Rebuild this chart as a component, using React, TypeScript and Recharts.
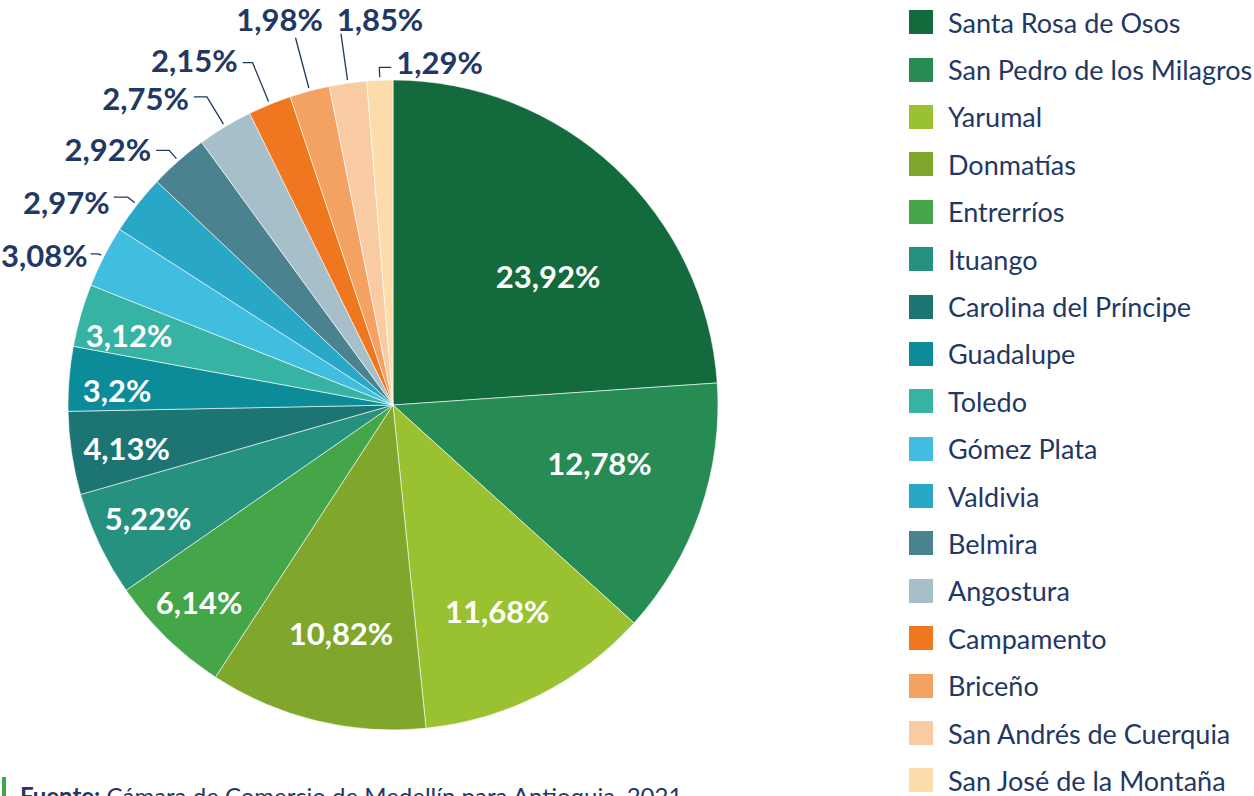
import { PieChart, Pie, Cell, Legend } from "recharts";

const municipios = [
  "Santa Rosa de Osos",
  "San Pedro de los Milagros",
  "Yarumal",
  "Donmatías",
  "Entrerríos",
  "Ituango",
  "Carolina del Príncipe",
  "Guadalupe",
  "Toledo",
  "Gómez Plata",
  "Valdivia",
  "Belmira",
  "Angostura",
  "Campamento",
  "Briceño",
  "San Andrés de Cuerquia",
  "San José de la Montaña",
];

const participacion = [
  23.92, 12.78, 11.68, 10.82, 6.14, 5.22, 4.13, 3.2, 3.12, 3.08, 2.97, 2.92, 2.75, 2.15, 1.98, 1.85, 1.29,
];

const colores = [
  "#136a3c", "#278b54", "#9ac12f", "#80a72c", "#44a649", "#25917e", "#1c7572", "#0c8c99", "#36b3a3",
  "#41bde0", "#28a7c6", "#4a8290", "#a6bfcb", "#ee771f", "#f4a261", "#f9cba2", "#fcdcaa",
];

const data = municipios.map((name, i) => ({ name, value: participacion[i] }));

const NAVY = "#1f3864";
const FONT = "Lato, 'Noto Sans', sans-serif";
const RAD = Math.PI / 180;

// label placement: inside labels (radius factor, clockwise shift in degrees)
const insideLayout: Record<number, { rf: number; da: number }> = {
  0: { rf: 0.62, da: 7.3 },
  1: { rf: 0.66, da: -3.4 },
  2: { rf: 0.71, da: 0 },
  3: { rf: 0.72, da: -0.8 },
  4: { rf: 0.85, da: 0.4 },
  5: { rf: 0.83, da: 0.6 },
  6: { rf: 0.83, da: -0.6 },
  7: { rf: 0.85, da: -1.5 },
  8: { rf: 0.84, da: -1.2 },
};

// outside labels with leader lines
const outsideLayout: Record<number, { ext: number; h: number; tdx: number; tdy: number; anchor: string }> = {
  9: { ext: 6, h: -8, tdx: -3, tdy: 1, anchor: "end" },
  10: { ext: 12, h: -14, tdx: -4, tdy: 5, anchor: "end" },
  11: { ext: 14, h: -13, tdx: -5, tdy: -1, anchor: "end" },
  12: { ext: 35, h: -13, tdx: -5, tdy: 1, anchor: "end" },
  13: { ext: 45, h: -10, tdx: -5, tdy: -3, anchor: "end" },
  14: { ext: 55, h: 0, tdx: -16, tdy: -19, anchor: "middle" },
  15: { ext: 50, h: 0, tdx: 39, tdy: -15, anchor: "middle" },
  16: { ext: 13, h: 12, tdx: 5, tdy: -5, anchor: "start" },
};

const fmt = (v: number) => `${String(v).replace(".", ",")}%`;

const polar = (cx: number, cy: number, r: number, a: number) => ({
  x: cx + r * Math.cos(-a * RAD),
  y: cy + r * Math.sin(-a * RAD),
});

const renderLabel = (props: any) => {
  const { cx, cy, midAngle, outerRadius, index, value } = props;
  const inside = insideLayout[index];
  if (inside) {
    const p = polar(cx, cy, outerRadius * inside.rf, midAngle - inside.da);
    return (
      <text
        x={p.x}
        y={p.y}
        fill="#ffffff"
        textAnchor="middle"
        dominantBaseline="central"
        style={{ fontFamily: FONT, fontWeight: 700, fontSize: 31 }}
      >
        {fmt(value)}
      </text>
    );
  }
  const o = outsideLayout[index];
  if (!o) return null;
  const p0 = polar(cx, cy, outerRadius + 3, midAngle);
  const p1 = polar(cx, cy, outerRadius + o.ext, midAngle);
  const p2 = { x: p1.x + o.h, y: p1.y };
  return (
    <g>
      <polyline
        points={`${p0.x},${p0.y} ${p1.x},${p1.y} ${p2.x},${p2.y}`}
        fill="none"
        stroke={NAVY}
        strokeWidth={1.3}
      />
      <text
        x={p2.x + o.tdx}
        y={p2.y + o.tdy}
        fill={NAVY}
        textAnchor={o.anchor as any}
        dominantBaseline="central"
        style={{ fontFamily: FONT, fontWeight: 700, fontSize: 31 }}
      >
        {fmt(value)}
      </text>
    </g>
  );
};

const renderLegend = () => (
  <div style={{ fontFamily: FONT, color: NAVY }}>
    {municipios.map((m, i) => (
      <div key={m} style={{ height: 47.4, display: "flex", alignItems: "center" }}>
        <span style={{ width: 24, height: 24, background: colores[i], display: "inline-block", marginRight: 15, flexShrink: 0 }} />
        <span style={{ fontSize: 27, whiteSpace: "nowrap" }}>{m}</span>
      </div>
    ))}
  </div>
);

export default function App() {
  return (
    <div style={{ position: "absolute", left: 0, top: 0, width: 1254, height: 796, overflow: "hidden", background: "#fff" }}>
      <PieChart width={1254} height={796} margin={{ top: 0, right: 0, bottom: 0, left: 0 }}>
        <Pie
          data={data}
          dataKey="value"
          nameKey="name"
          cx={393}
          cy={405}
          outerRadius={325}
          startAngle={90}
          endAngle={-270}
          stroke="#ffffff"
          strokeWidth={0.6}
          label={renderLabel}
          labelLine={false}
          isAnimationActive={false}
        >
          {data.map((d, i) => (
            <Cell key={d.name} fill={colores[i]} />
          ))}
        </Pie>
        <Legend
          layout="vertical"
          align="right"
          verticalAlign="top"
          content={renderLegend}
          wrapperStyle={{ left: 909, top: -1.5, width: 345 }}
        />
      </PieChart>
      <div style={{ position: "absolute", left: 2, top: 777, width: 4, height: 19, background: "#44a649" }} />
      <div
        style={{
          position: "absolute",
          left: 20,
          top: 783,
          fontFamily: FONT,
          fontSize: 24,
          color: NAVY,
          whiteSpace: "nowrap",
          lineHeight: "26px",
        }}
      >
        <b>Fuente:</b> Cámara de Comercio de Medellín para Antioquia, 2021
      </div>
    </div>
  );
}
